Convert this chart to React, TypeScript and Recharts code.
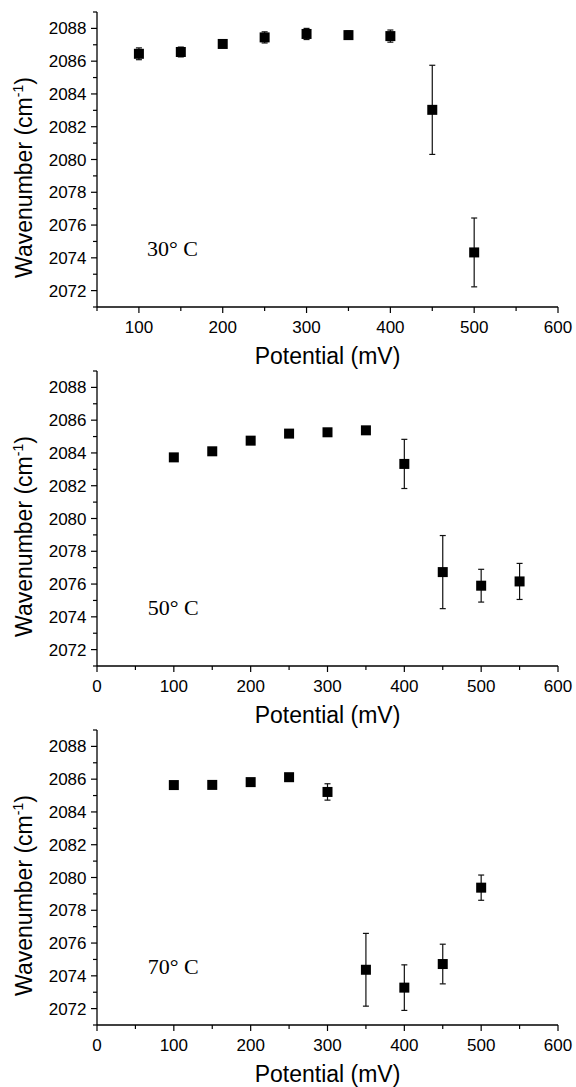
import { ScatterChart, Scatter, XAxis, YAxis, ErrorBar, Label, ReferenceDot } from "recharts";

// Potential (mV) for each temperature
const potentials30 = [100, 150, 200, 250, 300, 350, 400, 450, 500];
const wavenumber30 = [2086.45, 2086.56, 2087.05, 2087.45, 2087.66, 2087.59, 2087.53, 2083.03, 2074.33];
const error30 = [0.36, 0.3, 0.2, 0.34, 0.34, 0.25, 0.37, 2.72, 2.1];

const potentials50 = [100, 150, 200, 250, 300, 350, 400, 450, 500, 550];
const wavenumber50 = [2083.73, 2084.1, 2084.75, 2085.18, 2085.26, 2085.38, 2083.33, 2076.73, 2075.9, 2076.16];
const error50 = [0.1, 0.1, 0.1, 0.1, 0.1, 0.1, 1.5, 2.23, 1.0, 1.1];

const potentials70 = [100, 150, 200, 250, 300, 350, 400, 450, 500];
const wavenumber70 = [2085.64, 2085.65, 2085.82, 2086.12, 2085.22, 2074.37, 2073.28, 2074.72, 2079.38];
const error70 = [0.15, 0.15, 0.1, 0.1, 0.5, 2.22, 1.39, 1.21, 0.77];

const yTicks = [2071, 2072, 2073, 2074, 2075, 2076, 2077, 2078, 2079, 2080, 2081, 2082, 2083, 2084, 2085, 2086, 2087, 2088, 2089];
const xTicksFrom50 = [50, 100, 150, 200, 250, 300, 350, 400, 450, 500, 550, 600];
const xTicksFrom0 = [0, 50, 100, 150, 200, 250, 300, 350, 400, 450, 500, 550, 600];

const SANS = "'Liberation Sans', Arial, sans-serif";
const SERIF = "'Liberation Serif', 'Times New Roman', serif";

function XTick({ x, y, payload }: any) {
  const major = payload.value % 100 === 0;
  return (
    <g>
      <line x1={x} x2={x} y1={y} y2={y + (major ? 6 : 4)} stroke="#000" strokeWidth={1.2} />
      {major && (
        <text x={x} y={y + 26} textAnchor="middle" fontSize={17} fontFamily={SANS} fill="#000">
          {payload.value}
        </text>
      )}
    </g>
  );
}

function YTick({ x, y, payload }: any) {
  const major = payload.value % 2 === 0;
  return (
    <g>
      <line x1={x - (major ? 6 : 4)} x2={x} y1={y} y2={y} stroke="#000" strokeWidth={1.2} />
      {major && (
        <text x={x - 10.5} y={y + 6} textAnchor="end" fontSize={17} fontFamily={SANS} fill="#000">
          {payload.value}
        </text>
      )}
    </g>
  );
}

function XTitle({ viewBox }: any) {
  const cx = viewBox.x + viewBox.width / 2;
  return (
    <text x={cx} y={viewBox.y + 57} textAnchor="middle" fontSize={23} fontFamily={SANS} fill="#000">
      Potential (mV)
    </text>
  );
}

function YTitle({ viewBox }: any) {
  const bx = 32;
  const cy = viewBox.y + viewBox.height / 2 + 18;
  return (
    <text
      x={bx}
      y={cy}
      transform={`rotate(-90, ${bx}, ${cy})`}
      textAnchor="middle"
      fontSize={23}
      fontFamily={SANS}
      fill="#000"
    >
      <tspan>Wavenumber (cm</tspan>
      <tspan fontSize={14} dy={-9}>-1</tspan>
      <tspan dy={9}>)</tspan>
    </text>
  );
}

const Square = (p: any) => <rect x={p.cx - 5} y={p.cy - 5} width={10} height={10} fill="#000" />;

function Panel({ xs, ys, errs, xMin, xTicks, note, noteX }: any) {
  const data = xs.map((x: number, i: number) => ({ x, y: ys[i], err: errs[i] }));
  return (
    <ScatterChart width={576} height={369} margin={{ top: 12, right: 18, bottom: 0, left: 0 }}>
      <XAxis
        type="number"
        dataKey="x"
        domain={[xMin, 600]}
        ticks={xTicks}
        interval={0}
        allowDataOverflow
        height={62}
        tickSize={0}
        tickMargin={0}
        tickLine={false}
        tick={<XTick />}
        axisLine={{ stroke: "#000", strokeWidth: 1.3 }}
      >
        <Label content={<XTitle />} />
      </XAxis>
      <YAxis
        type="number"
        dataKey="y"
        domain={[2071, 2089]}
        ticks={yTicks}
        interval={0}
        allowDataOverflow
        width={97}
        tickSize={0}
        tickMargin={0}
        tickLine={false}
        tick={<YTick />}
        axisLine={{ stroke: "#000", strokeWidth: 1.3 }}
      >
        <Label content={<YTitle />} />
      </YAxis>
      <Scatter data={data} dataKey="y" shape={Square} isAnimationActive={false}>
        <ErrorBar dataKey="err" direction="y" width={3} stroke="#111" strokeWidth={1.2} isAnimationActive={false} />
      </Scatter>
      <ReferenceDot
        x={noteX}
        y={2074.1}
        r={0}
        shape={(p: any) => (
          <text x={p.cx} y={p.cy} fontSize={22} fontFamily={SERIF} fill="#000">
            {note}
          </text>
        )}
      />
    </ScatterChart>
  );
}

export default function App() {
  return (
    <div style={{ position: "absolute", left: 0, top: 0, width: 576, height: 1087, background: "#fff", overflow: "hidden" }}>
      <div style={{ position: "absolute", left: 0, top: 0 }}>
        <Panel xs={potentials30} ys={wavenumber30} errs={error30} xMin={50} xTicks={xTicksFrom50} note="30° C" noteX={109.6} />
      </div>
      <div style={{ position: "absolute", left: 0, top: 359 }}>
        <Panel xs={potentials50} ys={wavenumber50} errs={error50} xMin={0} xTicks={xTicksFrom0} note="50° C" noteX={66} />
      </div>
      <div style={{ position: "absolute", left: 0, top: 718 }}>
        <Panel xs={potentials70} ys={wavenumber70} errs={error70} xMin={0} xTicks={xTicksFrom0} note="70° C" noteX={66} />
      </div>
    </div>
  );
}
